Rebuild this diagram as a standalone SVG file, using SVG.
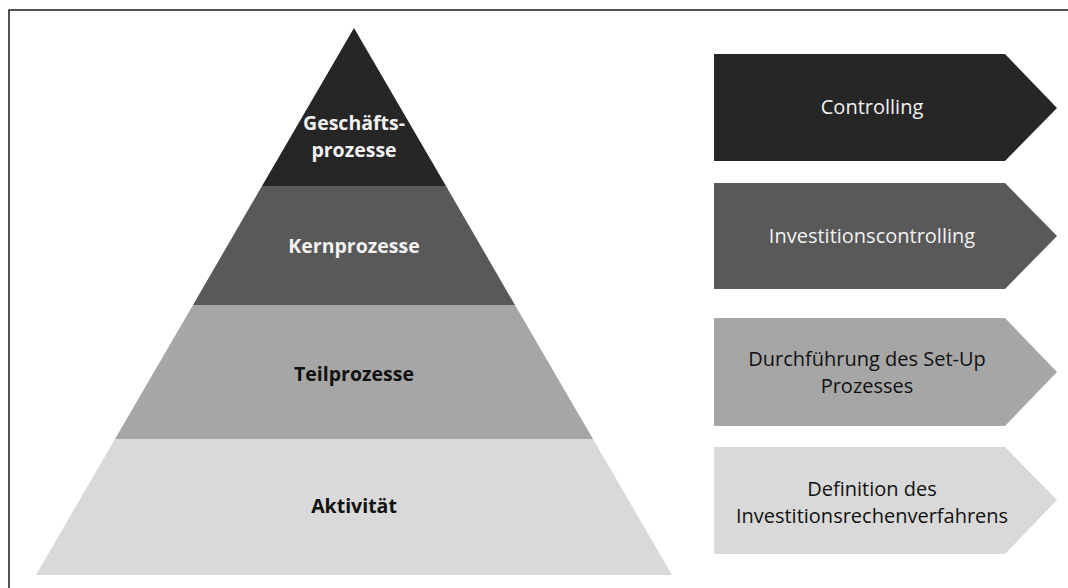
<svg xmlns="http://www.w3.org/2000/svg" width="1068" height="588" viewBox="0 0 1068 588">
<style>
.lbl{font-family:"Open Sans","Noto Sans",sans-serif;font-size:20px;text-anchor:middle}
.b{font-weight:bold;font-size:19.5px}
.w{fill:#f2f2f2}
.k{fill:#111111}
</style>
<rect width="1068" height="588" fill="#ffffff"/>
<g id="frame" fill="none" stroke="#1a1a1a" stroke-width="1.5">
<line x1="8.5" y1="10" x2="1068" y2="10"/>
<line x1="9" y1="10" x2="9" y2="588"/>
</g>
<g id="pyramid">
<g id="geschaeftsprozesse">
<polygon points="354,28 446,186 262,186" fill="#262626"/>
<text class="lbl b w" x="354" y="130">Geschäfts-</text>
<text class="lbl b w" x="354" y="157">prozesse</text>
</g>
<g id="kernprozesse">
<polygon points="262,186 446,186 515,305 193,305" fill="#595959"/>
<text class="lbl b w" x="354" y="253">Kernprozesse</text>
</g>
<g id="teilprozesse">
<polygon points="193,305 515,305 593,439 115,439" fill="#a6a6a6"/>
<text class="lbl b k" x="354" y="381">Teilprozesse</text>
</g>
<g id="aktivitaet">
<polygon points="115,439 593,439 672,575 36,575" fill="#d9d9d9"/>
<text class="lbl b k" x="354" y="513">Aktivität</text>
</g>
</g>
<g id="arrows">
<g id="controlling">
<polygon points="714,54 1005,54 1057,108 1005,161 714,161" fill="#262626"/>
<text class="lbl w" x="872" y="114">Controlling</text>
</g>
<g id="investitionscontrolling">
<polygon points="714,183 1005,183 1057,236 1005,289 714,289" fill="#595959"/>
<text class="lbl w" x="872" y="243">Investitionscontrolling</text>
</g>
<g id="setup">
<polygon points="714,318 1005,318 1057,372 1005,426 714,426" fill="#a6a6a6"/>
<text class="lbl k" x="867" y="366">Durchführung des Set-Up</text>
<text class="lbl k" x="867" y="393">Prozesses</text>
</g>
<g id="definition">
<polygon points="714,447 1005,447 1057,500 1005,554 714,554" fill="#d9d9d9"/>
<text class="lbl k" x="872" y="496">Definition des</text>
<text class="lbl k" x="872" y="523">Investitionsrechenverfahrens</text>
</g>
</g>
</svg>
